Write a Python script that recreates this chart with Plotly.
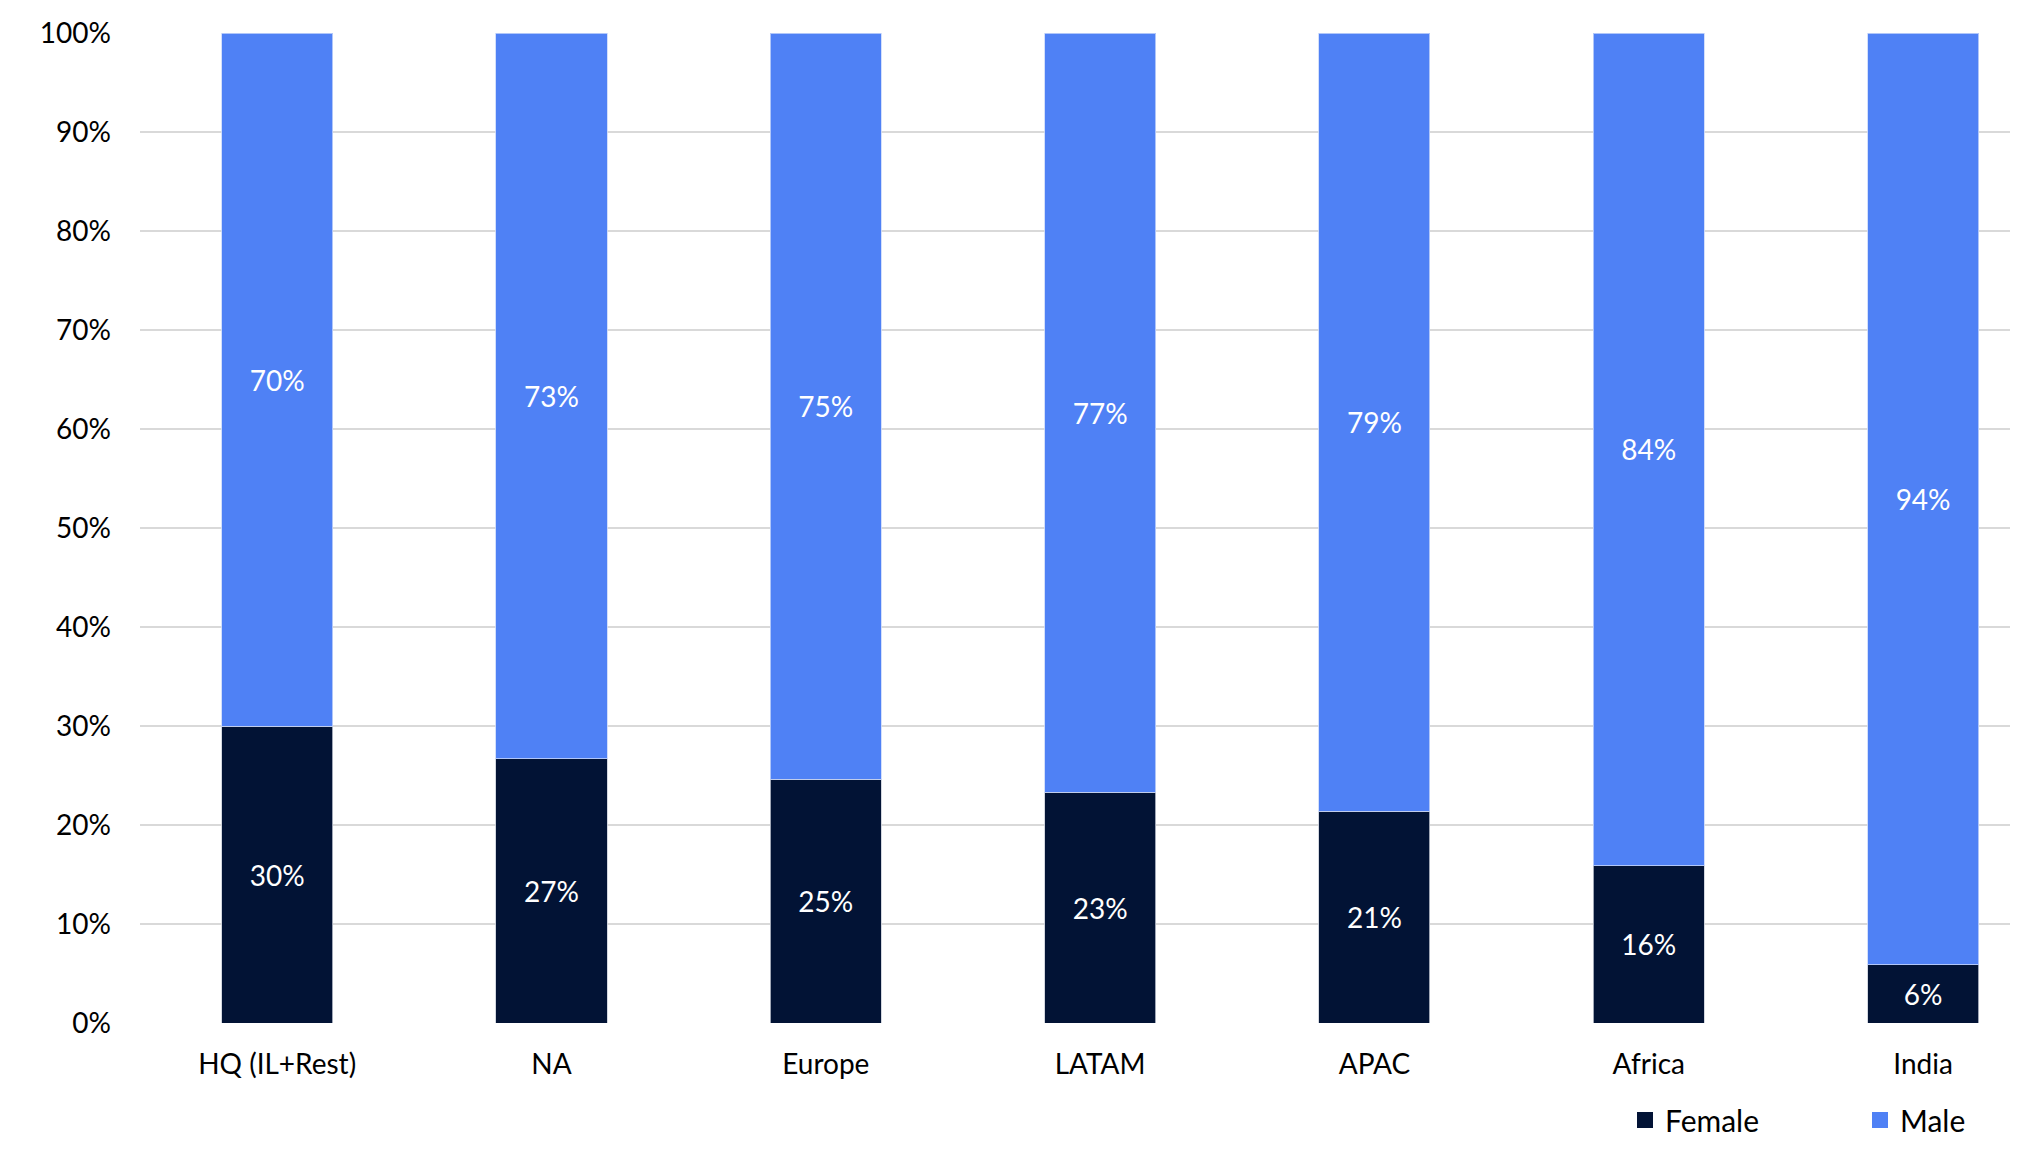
import plotly.graph_objects as go

categories = ["HQ (IL+Rest)", "NA", "Europe", "LATAM", "APAC", "Africa", "India"]
female = [30.0, 26.7, 24.6, 23.3, 21.4, 15.9, 5.9]
male = [70.0, 73.3, 75.4, 76.7, 78.6, 84.1, 94.1]
y_ticks = [0, 10, 20, 30, 40, 50, 60, 70, 80, 90, 100]
y_tick_text = [f"{v}%" for v in y_ticks]

FEMALE_COLOR = "#021335"
MALE_COLOR = "#4F81F5"
FONT = "Lato"
W, H = 2010, 1135  # page body has an 8px margin

fig = go.Figure()
fig.add_trace(go.Bar(
    x=categories, y=female, name="Female", showlegend=False,
    marker=dict(color=FEMALE_COLOR, line=dict(color="rgba(200,205,215,0.8)", width=1)),
    texttemplate="%{y:.0f}%", textposition="inside", insidetextanchor="middle",
    textfont=dict(color="white", size=28, family=FONT),
))
fig.add_trace(go.Bar(
    x=categories, y=male, name="Male", showlegend=False,
    marker=dict(color=MALE_COLOR, line=dict(color="rgba(200,215,250,0.8)", width=1)),
    texttemplate="%{y:.0f}%", textposition="inside", insidetextanchor="middle",
    textfont=dict(color="white", size=28, family=FONT),
))
# legend entries with larger square swatches
for name, col in [("Female", FEMALE_COLOR), ("Male", MALE_COLOR)]:
    fig.add_trace(go.Scatter(
        x=[None], y=[None], mode="markers", name=name,
        marker=dict(symbol="square", size=18, color=col),
        hoverinfo="skip",
    ))

fig.update_layout(
    width=W, height=H,
    barmode="stack", bargap=0.595,
    plot_bgcolor="white", paper_bgcolor="white",
    margin=dict(l=132, r=0, t=25, b=120, pad=0),
    font=dict(family=FONT, size=28, color="#000000"),
    uniformtext=dict(minsize=10, mode="show"),
    legend=dict(
        orientation="h", xref="container", yref="container",
        x=1617 / W, y=1 - 1086 / H, xanchor="left", yanchor="top",
        font=dict(size=30, family=FONT, color="#000000"),
        entrywidth=190, traceorder="normal", itemsizing="trace",
        bgcolor="rgba(0,0,0,0)",
    ),
    xaxis=dict(
        range=[-0.5, 6.346], showgrid=False, showline=False, zeroline=False,
        tickfont=dict(size=28, family=FONT, color="#000000"),
        ticklabelstandoff=22, fixedrange=True,
    ),
    yaxis=dict(
        range=[0, 100], tickmode="array", tickvals=y_ticks, ticktext=y_tick_text,
        showgrid=True, gridcolor="#D9D9D9", gridwidth=2,
        zeroline=False, showline=False,
        tickfont=dict(size=28, family=FONT, color="#000000"),
        ticklabelstandoff=28,
    ),
)

fig.write_html("out.html")
